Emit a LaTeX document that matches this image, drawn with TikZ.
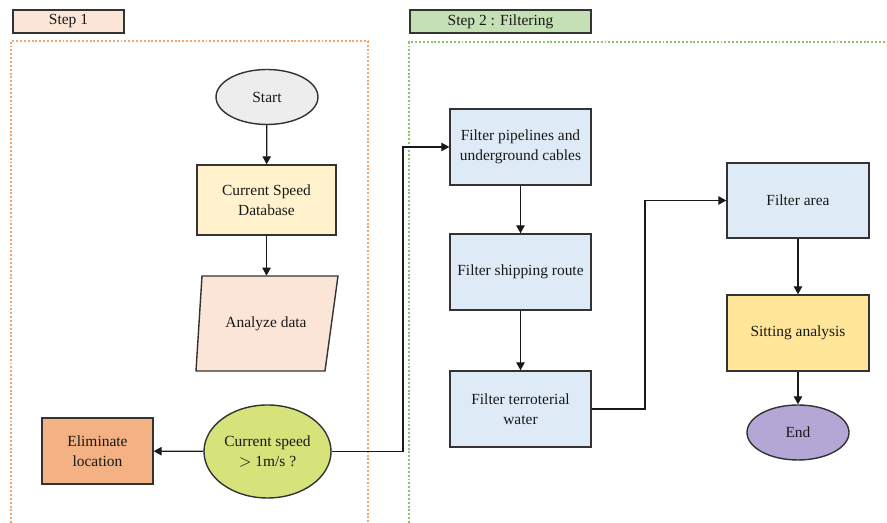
\documentclass[tikz,border=0pt]{standalone}
\usepackage{fontspec}
\setmainfont{Liberation Serif}
\usetikzlibrary{arrows.meta, shapes.geometric, calc}
\definecolor{peach}{HTML}{FBE5D6}
\definecolor{leaf}{HTML}{C5E0B4}
\definecolor{frameOrange}{HTML}{F4A46A}
\definecolor{frameGreen}{HTML}{8DC26F}
\definecolor{startGray}{HTML}{EDEDED}
\definecolor{dbYellow}{HTML}{FFF2CC}
\definecolor{askLime}{HTML}{D6E27A}
\definecolor{dropOrange}{HTML}{F4B183}
\definecolor{filterBlue}{HTML}{DEEBF7}
\definecolor{siteGold}{HTML}{FFE699}
\definecolor{endLilac}{HTML}{B4A7D6}

\begin{document}
\begin{tikzpicture}[
  txt/.style={font=\fontsize{8.8}{11.3}\selectfont, align=center, text=black!90},
  shp/.style={txt, draw=black!80, line width=0.8pt, inner sep=1pt},
  box/.style={shp, rectangle, minimum width=2.82cm, minimum height=1.52cm},
  oval/.style={shp, ellipse, minimum width=2.04cm, minimum height=1.10cm},
  tag/.style={shp, rectangle, minimum height=0.46cm},
  frame/.style={line width=0.9pt, dash pattern=on 1.1pt off 1.1pt},
  arr/.style={-{Triangle[length=1.6mm, width=1.7mm]}, line width=0.7pt, black!90}
]
  % page: 887 x 523 px, 1 px = 0.02 cm
  \useasboundingbox (0, 0) rectangle (17.74, 10.46);

  % step headers
  \node[tag, fill=peach, minimum width=2.22cm] (tagOne) at (1.37, 10.03) {Step 1};
  \node[tag, fill=leaf, minimum width=3.62cm] (tagTwo) at (10.01, 10.03) {Step 2 : Filtering};

  % dotted frames (open at the bottom / right)
  \draw[frame, frameOrange] (0.22, 0) -- (0.22, 9.64) -- (7.36, 9.64) -- (7.36, 0);
  \draw[frame, frameGreen] (8.18, 0) -- (8.18, 9.62) -- (17.74, 9.62);

  % step 1 column
  \node[oval, fill=startGray] (start) at (5.34, 8.52) {Start};
  \node[box, fill=dbYellow, minimum width=2.78cm, minimum height=1.40cm] (speedDb) at (5.33, 6.46) {Current Speed\\Database};
  % slanted input box, drawn by hand
  \filldraw[fill=peach, draw=black!80, line width=0.8pt]
    (4.04, 4.94) -- (6.76, 4.94) -- (6.50, 3.04) -- (3.92, 3.04) -- cycle;
  \node[txt, minimum width=2.6cm, minimum height=1.9cm] (analyze) at (5.32, 3.99) {Analyze data};
  \node[oval, fill=askLime, minimum width=2.42cm, minimum height=1.86cm] (ask) at (5.35, 1.43) {Current speed\\$>$ 1m/s ?};
  \node[box, fill=dropOrange, minimum width=2.22cm, minimum height=1.32cm] (drop) at (1.95, 1.44) {Eliminate\\location};

  % step 2 columns
  \node[box, fill=filterBlue] (pipes) at (10.41, 7.52) {Filter pipelines and\\underground cables};
  \node[box, fill=filterBlue] (ships) at (10.41, 5.02) {Filter shipping route};
  \node[box, fill=filterBlue] (waters) at (10.41, 2.28) {Filter terroterial\\water};
  \node[box, fill=filterBlue, minimum width=2.84cm, minimum height=1.50cm] (area) at (15.96, 6.45) {Filter area};
  \node[box, fill=siteGold, minimum width=2.84cm] (siting) at (15.96, 3.80) {Sitting analysis};
  \node[oval, fill=endLilac] (finish) at (15.96, 1.81) {End};

  % bends of the elbow connectors
  \coordinate (bendA) at (8.06, 0);
  \coordinate (bendB) at (12.90, 0);

  % connectors
  \draw[arr] (start) -- (speedDb);
  \draw[arr] (speedDb) -- (speedDb |- analyze.north);
  \draw[arr] (ask) -- (drop);
  \draw[arr] (ask.east) -- (ask.east -| bendA) |- (pipes.west);
  \draw[arr] (pipes) -- (ships);
  \draw[arr] (ships) -- (waters);
  \draw[arr] (waters.east) -- (waters.east -| bendB) |- (area.west);
  \draw[arr] (area) -- (siting);
  \draw[arr] (siting) -- (finish);
\end{tikzpicture}
\end{document}
